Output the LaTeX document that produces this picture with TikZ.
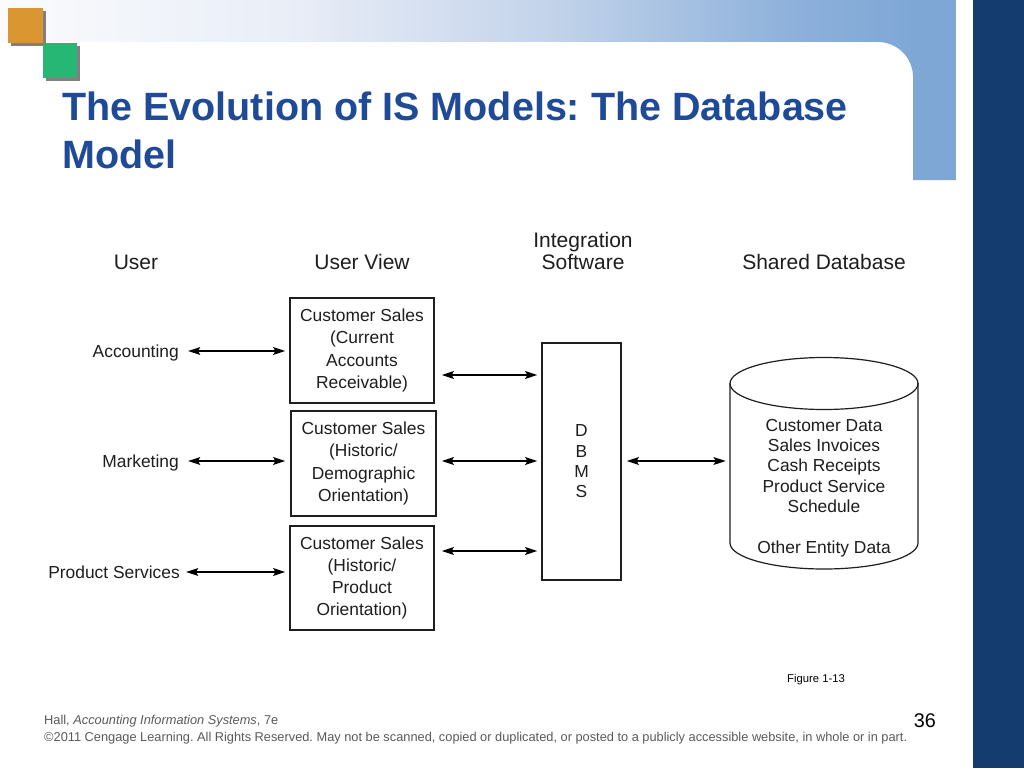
\documentclass[tikz,border=0pt]{standalone}
\usepackage{fontspec}
\setmainfont{Liberation Sans}
\usetikzlibrary{arrows.meta}
\frenchspacing
\definecolor{bandA}{RGB}{250,251,253}
\definecolor{bandB}{RGB}{232,237,247}
\definecolor{bandC}{RGB}{195,211,234}
\definecolor{bandD}{RGB}{140,176,218}
\definecolor{bandR}{RGB}{127,167,214}
\definecolor{darkbar}{RGB}{21,60,110}
\definecolor{sqorange}{RGB}{218,150,48}
\definecolor{sqgreen}{RGB}{38,183,117}
\definecolor{sqshadow}{RGB}{128,128,128}
\definecolor{titleblue}{RGB}{30,74,152}
\definecolor{ink}{RGB}{30,30,30}
\definecolor{footgray}{RGB}{90,90,90}
\pgfdeclarehorizontalshading{bandshade}{100bp}{color(0bp)=(bandA); color(25bp)=(bandA); color(40.7bp)=(bandB); color(53.8bp)=(bandC); color(66.8bp)=(bandD); color(72.8bp)=(bandR); color(100bp)=(bandR)}
\tikzset{
  diagtext/.style={text=ink, inner sep=0pt, font=\fontsize{17.4}{22.3}\selectfont},
  headtext/.style={text=ink, inner sep=0pt, font=\fontsize{21}{22}\selectfont, align=center},
  labeltext/.style={diagtext, text height=12.5pt, text depth=0pt},
  viewbox/.style={draw=ink, line width=1.2pt, fill=white, align=center, diagtext, minimum width=144pt, minimum height=105pt},
  arr/.style={draw=black, line width=2.3pt, {Stealth[length=12pt,width=7.5pt,inset=2pt]}-{Stealth[length=12pt,width=7.5pt,inset=2pt]}},
  titletext/.style={text=titleblue, inner sep=0pt, font=\fontsize{39.5}{48}\selectfont\bfseries},
  foottext/.style={text=footgray, inner sep=0pt, font=\fontsize{12.8}{15}\selectfont}
}
\begin{document}
\begin{tikzpicture}[x=1pt,y=-1pt]
\useasboundingbox (0,0) rectangle (1024,768);
\fill[white] (0,0) rectangle (1024,768);
% top band with right bar
\shade[shading=bandshade] (0,0) -- (956,0) -- (956,180) -- (913,180) -- (913,77) arc[start angle=0, end angle=-90, radius=35] -- (0,42) -- cycle;
% dark right bar
\fill[darkbar] (973,0) rectangle (1024,768);
% squares
\fill[sqshadow] (11,11) rectangle (46,46);
\fill[sqorange] (8,8) rectangle (43,43);
\fill[sqshadow] (46,46) rectangle (80,81);
\fill[sqgreen] (43,43) rectangle (77,78);
% title
\node[titletext, anchor=base west] (title1) at (62,120) {The Evolution of IS Models: The Database};
\node[titletext, anchor=base west] (title2) at (62,168) {Model};
% headers
\node[headtext, anchor=base] (hUser) at (136,269) {User};
\node[headtext, anchor=base] (hView) at (362,269) {User View};
\node[headtext, anchor=center] (hInt) at (583,251) {Integration\\Software};
\node[headtext, anchor=base] (hDB) at (824,269) {Shared Database};
% user labels
\node[labeltext, anchor=east] (acc) at (179,351) {Accounting};
\node[labeltext, anchor=east] (mkt) at (179,461) {Marketing};
\node[labeltext, anchor=east] (prod) at (180,572) {Product Services};
% user view boxes
\node[viewbox] (b1) at (362,350.5) {Customer Sales\\(Current\\Accounts\\Receivable)};
\node[viewbox, minimum width=145pt] (b2) at (363.5,463.5) {Customer Sales\\(Historic/\\Demographic\\Orientation)};
\node[viewbox, minimum height=104pt] (b3) at (362,578) {Customer Sales\\(Historic/\\Product\\Orientation)};
% DBMS
\node[draw=ink, line width=1.2pt, fill=white, align=center, text=ink, inner sep=0pt, font=\fontsize{17.4}{20.3}\selectfont, minimum width=79pt, minimum height=237pt] (dbms) at (581.5,461.5) {D\\B\\M\\S};
% cylinder
\draw[draw=ink, line width=1.2pt, fill=white] (730,383) -- (730,543) arc[x radius=94, y radius=26, start angle=180, end angle=0] -- (918,383);
\draw[draw=ink, line width=1.2pt] (824,383.5) ellipse [x radius=94, y radius=26];
\node[inner sep=0pt, minimum width=188pt, minimum height=212pt] (db) at (824,461) {};
\node[diagtext, align=center, font=\fontsize{17.4}{20.3}\selectfont] (dbtxt) at (824,488) {Customer Data\\Sales Invoices\\Cash Receipts\\Product Service\\Schedule\\[20.3pt]Other Entity Data};
% arrows user - view
\draw[arr, shorten <=9pt, shorten >=4pt] (acc.east) -- (acc.east -| b1.west);
\draw[arr, shorten <=9pt, shorten >=5pt] (mkt.east) -- (mkt.east -| b2.west);
\draw[arr, shorten <=6pt, shorten >=4pt] (prod.east) -- (prod.east -| b3.west);
% arrows view - dbms
\coordinate (a1) at ([yshift=-24.5pt]b1.east);
\coordinate (a2) at ([yshift=2.5pt]b2.east);
\coordinate (a3) at ([yshift=27pt]b3.east);
\draw[arr, shorten <=7pt, shorten >=4pt] (a1) -- (a1 -| dbms.west);
\draw[arr, shorten <=5pt, shorten >=4pt] (a2) -- (a2 -| dbms.west);
\draw[arr, shorten <=7pt, shorten >=4pt] (a3) -- (a3 -| dbms.west);
% dbms - database
\draw[arr, shorten <=5pt, shorten >=4pt] (dbms.east |- db.west) -- (db.west);
% figure label and footer
\node[inner sep=0pt, text=black, font=\fontsize{11.3}{13}\selectfont, anchor=base west] (fig) at (787,682) {Figure 1-13};
\node[foottext, anchor=base west] (foot1) at (44,724) {Hall, \textit{Accounting Information Systems}, 7e};
\node[foottext, anchor=base west] (foot2) at (44,741) {©2011 Cengage Learning. All Rights Reserved. May not be scanned, copied or duplicated, or posted to a publicly accessible website, in whole or in part.};
\node[inner sep=0pt, text=black, font=\fontsize{19.8}{22}\selectfont, anchor=base east] (page) at (936,727) {36};
\end{tikzpicture}
\end{document}
